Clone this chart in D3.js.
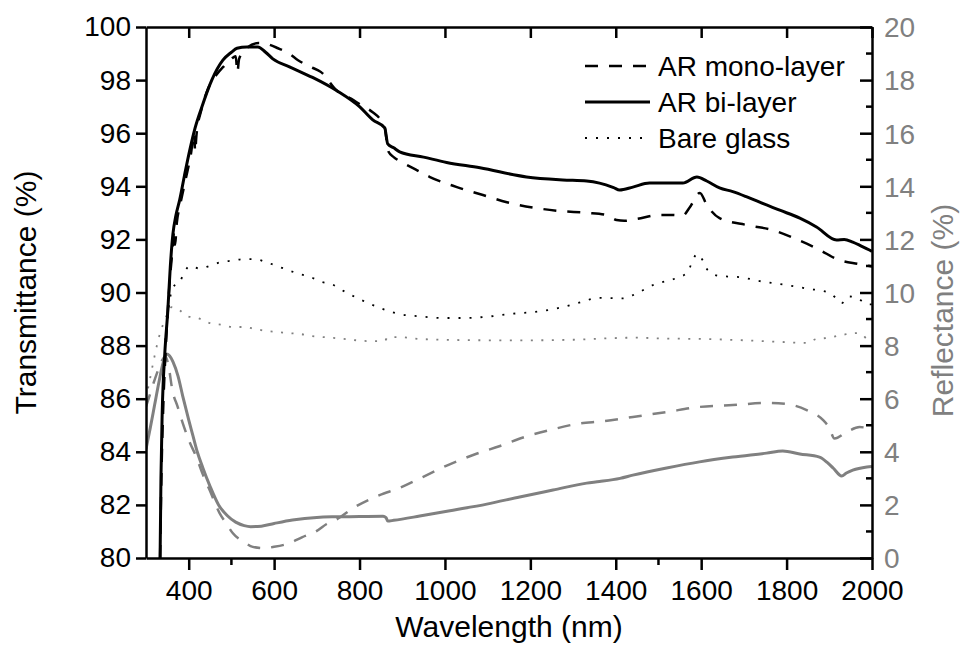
<!DOCTYPE html>
<html>
<head>
<meta charset="utf-8">
<script src="https://cdn.jsdelivr.net/npm/d3@7"></script>
<style>
  body { margin: 0; background: #fff; }
  svg { display: block; font-family: "Liberation Sans", Arial, sans-serif; }
  .domain { stroke: #000; stroke-width: 2.5; }
</style>
</head>
<body>
<script>
// wavelength (nm) vs transmittance (%) / reflectance (%)
const monoT = [[333,80],[336,83],[340,85.5],[345,87.5],[350,89],[355,90.3],[362,91.6],[366,92.3],[368,91.8],[372,92.6],[380,93.3],[392,94.2],[405,95.2],[413,96.0],[415,95.3],[418,95.9],[430,96.9],[446,97.7],[465,98.2],[481,98.5],[500,98.8],[510,98.9],[514,98.3],[518,98.8],[535,99.2],[564,99.4],[585,99.35],[609,99.2],[635,99.0],[656,98.75],[685,98.5],[710,98.3],[747,97.6],[780,97.3],[800,97.1],[830,96.8],[850,96.5],[858,96.3],[868,95.3],[880,95.1],[900,94.9],[935,94.6],[965,94.35],[1028,93.97],[1089,93.67],[1145,93.4],[1206,93.2],[1269,93.07],[1332,93.0],[1378,92.92],[1402,92.73],[1420,92.7],[1449,92.77],[1503,92.92],[1527,92.92],[1557,92.9],[1573,93.2],[1597,93.75],[1613,93.3],[1643,92.8],[1707,92.54],[1768,92.35],[1824,92.0],[1878,91.6],[1917,91.26],[1971,91.07],[2000,90.98]]

const biT = [[333,80],[335,83],[338,85.5],[344,87.7],[351,89.3],[357,91],[363,92.2],[370,92.9],[379,93.5],[390,94.4],[403,95.4],[415,96.2],[431,97.0],[454,98.0],[480,98.75],[500,99.05],[513,99.2],[536,99.25],[562,99.25],[580,99.05],[597,98.8],[636,98.5],[690,98.1],[747,97.6],[800,97.0],[831,96.5],[859,96.2],[866,95.6],[880,95.45],[894,95.3],[950,95.1],[1004,94.9],[1082,94.7],[1191,94.35],[1276,94.24],[1332,94.2],[1362,94.12],[1395,93.95],[1409,93.86],[1440,93.97],[1479,94.12],[1557,94.12],[1590,94.35],[1613,94.2],[1643,93.94],[1674,93.8],[1707,93.6],[1737,93.4],[1784,93.1],[1831,92.8],[1870,92.47],[1917,91.98],[1935,92.0],[1955,91.9],[1975,91.75],[1994,91.6],[2000,91.55]]

const bareT = [[345,88.2],[352,89.3],[363,90.2],[379,90.4],[391,90.8],[403,91.0],[426,90.9],[449,91.0],[477,91.15],[503,91.2],[529,91.26],[555,91.26],[580,91.15],[606,91.0],[632,90.85],[658,90.7],[683,90.6],[711,90.4],[737,90.3],[758,90.1],[800,89.75],[843,89.45],[890,89.2],[941,89.1],[995,89.04],[1051,89.04],[1105,89.1],[1159,89.2],[1210,89.27],[1262,89.4],[1311,89.6],[1362,89.8],[1417,89.78],[1440,89.9],[1487,90.28],[1543,90.55],[1566,90.73],[1591,91.45],[1604,91.2],[1615,90.85],[1643,90.62],[1690,90.58],[1737,90.43],[1800,90.28],[1847,90.15],[1901,89.98],[1915,89.8],[1929,89.6],[1945,89.85],[1965,89.8],[1988,89.56],[2000,89.55]]

const monoR = [[300,5.7],[310,6.2],[320,6.7],[330,7.15],[338,7.45],[345,7.6],[352,7.3],[362,6.3],[374,5.7],[386,5.08],[400,4.45],[418,3.8],[433,3.15],[449,2.56],[472,1.7],[490,1.25],[503,0.94],[530,0.6],[550,0.42],[575,0.37],[600,0.42],[636,0.56],[665,0.78],[700,1.02],[723,1.28],[746,1.45],[785,1.88],[847,2.37],[894,2.64],[948,3.05],[1007,3.5],[1066,3.88],[1129,4.22],[1187,4.56],[1246,4.82],[1309,5.05],[1370,5.15],[1440,5.31],[1519,5.5],[1596,5.69],[1674,5.76],[1753,5.84],[1800,5.8],[1847,5.57],[1885,5.2],[1900,4.9],[1912,4.5],[1941,4.75],[1971,4.93],[2000,4.86]]

const biR = [[300,4.1],[310,4.9],[320,5.75],[330,6.6],[340,7.35],[348,7.68],[355,7.62],[363,7.4],[375,6.85],[386,6.1],[400,5.2],[410,4.6],[420,4.0],[433,3.4],[450,2.7],[470,2.0],[490,1.6],[510,1.35],[530,1.22],[545,1.18],[570,1.2],[600,1.3],[643,1.43],[700,1.53],[737,1.55],[800,1.56],[855,1.57],[862,1.52],[866,1.39],[880,1.42],[941,1.58],[1019,1.8],[1098,2.03],[1175,2.3],[1253,2.56],[1332,2.82],[1362,2.88],[1410,3.0],[1440,3.12],[1519,3.39],[1596,3.62],[1674,3.8],[1753,3.95],[1791,4.03],[1831,3.92],[1877,3.8],[1895,3.6],[1909,3.39],[1929,3.09],[1940,3.2],[1955,3.31],[1988,3.43],[2000,3.45]]

const bareR = [[300,6.0],[310,6.8],[320,7.6],[330,8.3],[340,8.8],[350,9.2],[360,9.45],[372,9.4],[398,9.1],[421,9.04],[449,8.85],[478,8.78],[503,8.7],[529,8.7],[555,8.63],[582,8.55],[607,8.51],[634,8.47],[660,8.44],[687,8.36],[715,8.32],[739,8.29],[793,8.2],[820,8.17],[847,8.17],[860,8.2],[866,8.32],[890,8.32],[941,8.25],[1000,8.22],[1100,8.2],[1200,8.2],[1300,8.22],[1390,8.28],[1450,8.3],[1500,8.27],[1600,8.25],[1700,8.2],[1784,8.14],[1847,8.1],[1870,8.25],[1896,8.29],[1930,8.4],[1964,8.47],[1975,8.45],[1988,8.25],[2000,8.2]]

const xTicks = [400, 600, 800, 1000, 1200, 1400, 1600, 1800, 2000]
const xMinor = [500, 1500]
const leftTicks = [80, 82, 84, 86, 88, 90, 92, 94, 96, 98, 100]
const rightTicks = [0, 2, 4, 6, 8, 10, 12, 14, 16, 18, 20]
const legendNames = ["AR mono-layer", "AR bi-layer", "Bare glass"]

const width = 960
const height = 645
const plotLeft = 146, plotRight = 872, plotTop = 27, plotBottom = 558
const grey = "#808080"

const x = d3.scaleLinear().domain([300, 2000]).range([plotLeft, plotRight])
const yT = d3.scaleLinear().domain([80, 100]).range([plotBottom, plotTop])
const yR = d3.scaleLinear().domain([0, 20]).range([plotBottom, plotTop])

const svg = d3.select("body").append("svg")
  .attr("width", width)
  .attr("height", height)

svg.append("clipPath").attr("id", "plot")
  .append("rect")
  .attr("x", plotLeft).attr("y", plotTop)
  .attr("width", plotRight - plotLeft).attr("height", plotBottom - plotTop)

const styles = {
  mono: { width: 2.5, dash: "13,11" },
  bi: { width: 3, dash: null },
  bare: { width: 1.8, dash: "2,9" },
}

const series = [
  { data: biR, y: yR, color: grey, s: styles.bi },
  { data: monoR, y: yR, color: grey, s: styles.mono },
  { data: bareR, y: yR, color: grey, s: { width: 1.8, dash: "2,8.5" } },
  { data: bareT, y: yT, color: "#000", s: styles.bare },
  { data: monoT, y: yT, color: "#000", s: styles.mono },
  { data: biT, y: yT, color: "#000", s: styles.bi },
]

const lines = svg.append("g").attr("clip-path", "url(#plot)")
series.forEach((d) => {
  const line = d3.line()
    .x((p) => x(p[0]))
    .y((p) => d.y(p[1]))
    .curve(d3.curveMonotoneX)
  lines.append("path")
    .attr("d", line(d.data))
    .attr("fill", "none")
    .attr("stroke", d.color)
    .attr("stroke-width", d.s.width)
    .attr("stroke-dasharray", d.s.dash)
    .attr("stroke-linejoin", "round")
})

// axes
const bottomAxis = svg.append("g")
  .attr("transform", `translate(0,${plotBottom})`)
  .call(d3.axisBottom(x).tickValues(xTicks).tickFormat(d3.format("d"))
    .tickSize(12).tickSizeOuter(0).tickPadding(10))
bottomAxis.selectAll(".tick line").attr("stroke-width", 2.5)
bottomAxis.selectAll("text").attr("font-size", 28).attr("fill", "#000")

svg.append("g").selectAll("line").data(xMinor).join("line")
  .attr("x1", (d) => x(d)).attr("x2", (d) => x(d))
  .attr("y1", plotBottom).attr("y2", plotBottom + 7)
  .attr("stroke", "#000").attr("stroke-width", 2.5)

const topAxis = svg.append("g")
  .attr("transform", `translate(0,${plotTop})`)
  .call(d3.axisBottom(x).tickValues(xTicks).tickSize(11).tickSizeOuter(0).tickFormat(""))
topAxis.selectAll(".tick line").attr("stroke-width", 2.5)

const leftAxis = svg.append("g")
  .attr("transform", `translate(${plotLeft},0)`)
  .call(d3.axisLeft(yT).tickValues(leftTicks).tickSize(10).tickSizeOuter(0).tickPadding(5))
leftAxis.selectAll(".tick line").attr("stroke-width", 2.5)
leftAxis.selectAll("text").attr("font-size", 28).attr("fill", "#000")

const rightAxis = svg.append("g")
  .attr("transform", `translate(${plotRight},0)`)
  .call(d3.axisLeft(yR).tickValues(rightTicks).tickSize(12).tickSizeOuter(0).tickFormat(""))
rightAxis.selectAll(".tick line").attr("stroke-width", 2.5)
rightAxis.selectAll(".tick").append("text")
  .attr("x", 12).attr("dy", "0.35em")
  .attr("text-anchor", "start")
  .attr("font-size", 28).attr("fill", grey)
  .text((d) => d)

svg.append("g").selectAll("line").data(d3.range(1, 20, 2)).join("line")
  .attr("x1", plotRight - 6).attr("x2", plotRight)
  .attr("y1", (d) => yR(d)).attr("y2", (d) => yR(d))
  .attr("stroke", "#000").attr("stroke-width", 2.5)

// titles
svg.append("text")
  .attr("x", (plotLeft + plotRight) / 2).attr("y", 637)
  .attr("text-anchor", "middle").attr("font-size", 30)
  .text("Wavelength (nm)")

svg.append("text")
  .attr("transform", `translate(36,${(plotTop + plotBottom) / 2}) rotate(-90)`)
  .attr("text-anchor", "middle").attr("font-size", 30)
  .text("Transmittance (%)")

svg.append("text")
  .attr("transform", `translate(953,${(plotTop + plotBottom) / 2 + 18}) rotate(-90)`)
  .attr("text-anchor", "middle").attr("font-size", 30).attr("fill", grey)
  .text("Reflectance (%)")

// legend
const legendStyles = [styles.mono, styles.bi, styles.bare]
const legend = svg.append("g").attr("transform", "translate(585,66)")
legendNames.forEach((name, i) => {
  const g = legend.append("g").attr("transform", `translate(0,${i * 36})`)
  g.append("line")
    .attr("x1", 0).attr("x2", 65)
    .attr("stroke", "#000")
    .attr("stroke-width", legendStyles[i].width)
    .attr("stroke-dasharray", legendStyles[i].dash)
  g.append("text")
    .attr("x", 73).attr("dy", "0.35em")
    .attr("font-size", 28)
    .text(name)
})
</script>
</body>
</html>
